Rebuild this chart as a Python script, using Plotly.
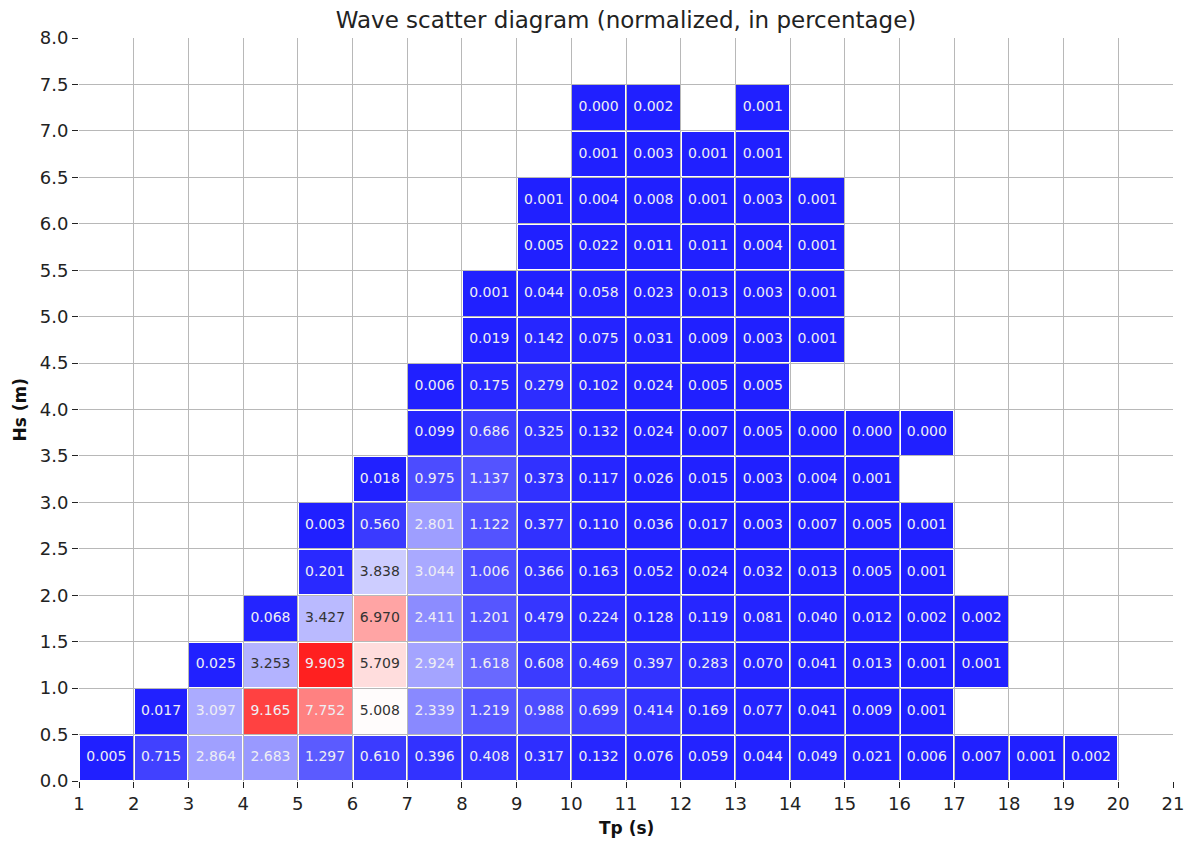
import plotly.graph_objects as go

# Bin edges
tp_edges = list(range(1, 22))                      # 1 .. 21 s
hs_edges = [i * 0.5 for i in range(17)]            # 0.0 .. 8.0 m

N = None
# Percentage of occurrence, one list per Hs bin (lower edge), indexed by Tp bin 1..20
hs_00 = [0.005, 0.715, 2.864, 2.683, 1.297, 0.610, 0.396, 0.408, 0.317, 0.132, 0.076, 0.059, 0.044, 0.049, 0.021, 0.006, 0.007, 0.001, 0.002, N]
hs_05 = [N, 0.017, 3.097, 9.165, 7.752, 5.008, 2.339, 1.219, 0.988, 0.699, 0.414, 0.169, 0.077, 0.041, 0.009, 0.001, N, N, N, N]
hs_10 = [N, N, 0.025, 3.253, 9.903, 5.709, 2.924, 1.618, 0.608, 0.469, 0.397, 0.283, 0.070, 0.041, 0.013, 0.001, 0.001, N, N, N]
hs_15 = [N, N, N, 0.068, 3.427, 6.970, 2.411, 1.201, 0.479, 0.224, 0.128, 0.119, 0.081, 0.040, 0.012, 0.002, 0.002, N, N, N]
hs_20 = [N, N, N, N, 0.201, 3.838, 3.044, 1.006, 0.366, 0.163, 0.052, 0.024, 0.032, 0.013, 0.005, 0.001, N, N, N, N]
hs_25 = [N, N, N, N, 0.003, 0.560, 2.801, 1.122, 0.377, 0.110, 0.036, 0.017, 0.003, 0.007, 0.005, 0.001, N, N, N, N]
hs_30 = [N, N, N, N, N, 0.018, 0.975, 1.137, 0.373, 0.117, 0.026, 0.015, 0.003, 0.004, 0.001, N, N, N, N, N]
hs_35 = [N, N, N, N, N, N, 0.099, 0.686, 0.325, 0.132, 0.024, 0.007, 0.005, 0.000, 0.000, 0.000, N, N, N, N]
hs_40 = [N, N, N, N, N, N, 0.006, 0.175, 0.279, 0.102, 0.024, 0.005, 0.005, N, N, N, N, N, N, N]
hs_45 = [N, N, N, N, N, N, N, 0.019, 0.142, 0.075, 0.031, 0.009, 0.003, 0.001, N, N, N, N, N, N]
hs_50 = [N, N, N, N, N, N, N, 0.001, 0.044, 0.058, 0.023, 0.013, 0.003, 0.001, N, N, N, N, N, N]
hs_55 = [N, N, N, N, N, N, N, N, 0.005, 0.022, 0.011, 0.011, 0.004, 0.001, N, N, N, N, N, N]
hs_60 = [N, N, N, N, N, N, N, N, 0.001, 0.004, 0.008, 0.001, 0.003, 0.001, N, N, N, N, N, N]
hs_65 = [N, N, N, N, N, N, N, N, N, 0.001, 0.003, 0.001, 0.001, N, N, N, N, N, N, N]
hs_70 = [N, N, N, N, N, N, N, N, N, 0.000, 0.002, N, 0.001, N, N, N, N, N, N, N]
hs_75 = [N] * 20

z = [hs_00, hs_05, hs_10, hs_15, hs_20, hs_25, hs_30, hs_35,
     hs_40, hs_45, hs_50, hs_55, hs_60, hs_65, hs_70, hs_75]

x_ticks = list(range(1, 22))
y_ticks = [i * 0.5 for i in range(17)]

FONT = "DejaVu Sans"
zmax = max(v for row in z for v in row if v is not None)

fig = go.Figure()
fig.add_trace(go.Heatmap(
    x=tp_edges, y=hs_edges, z=z,
    zmin=0, zmax=zmax,
    colorscale=[[0, "rgb(0,0,255)"], [0.5, "rgb(255,255,255)"], [1, "rgb(255,0,0)"]],
    showscale=False, xgap=2, ygap=2, opacity=0.87, hoverinfo="skip",
))

# cell labels
tx, ty, tt, tc = [], [], [], []
for i, row in enumerate(z):
    for j, v in enumerate(row):
        if v is None:
            continue
        tx.append((tp_edges[j] + tp_edges[j + 1]) / 2)
        ty.append((hs_edges[i] + hs_edges[i + 1]) / 2)
        tt.append(f"{v:.3f}")
        tc.append("#333333" if 3.2 < v < 7.5 else "#eeeef4")

fig.add_trace(go.Scatter(
    x=tx, y=ty, text=tt, mode="text",
    textfont=dict(family=FONT, size=14, color=tc),
    hoverinfo="skip", showlegend=False,
))

fig.update_layout(
    width=1193, height=841,
    margin=dict(l=79, r=20, t=38, b=60, autoexpand=False),
    paper_bgcolor="white", plot_bgcolor="white",
    font=dict(family=FONT, color="#222222"),
    title=dict(text="Wave scatter diagram (normalized, in percentage)",
               xref="paper", x=0.5, xanchor="center",
               yref="container", y=0.976, yanchor="middle",
               font=dict(family=FONT, size=23, color="#222222")),
    showlegend=False,
    annotations=[
        dict(text="<b>Tp (s)</b>", xref="paper", yref="paper", x=0.5, y=-0.0633,
             xanchor="center", yanchor="middle", showarrow=False,
             font=dict(family=FONT, size=17, color="#111111")),
        dict(text="<b>Hs (m)</b>", xref="paper", yref="paper", x=-0.054, y=0.5,
             xanchor="center", yanchor="middle", showarrow=False, textangle=-90,
             font=dict(family=FONT, size=17, color="#111111")),
    ],
)
fig.update_xaxes(
    range=[1, 21], tickvals=x_ticks, ticktext=[str(v) for v in x_ticks],
    showgrid=True, gridcolor="#b8b8b8", gridwidth=1, zeroline=False, showline=False,
    ticks="outside", ticklen=6, tickcolor="#222222", tickwidth=1, automargin=False,
    tickfont=dict(family=FONT, size=18, color="#222222"),
)
fig.update_yaxes(
    range=[0, 8], tickvals=y_ticks, ticktext=[f"{v:.1f}" for v in y_ticks],
    showgrid=True, gridcolor="#b8b8b8", gridwidth=1, zeroline=False, showline=False,
    ticks="outside", ticklen=6, tickcolor="#222222", tickwidth=1, automargin=False,
    tickfont=dict(family=FONT, size=18, color="#222222"),
)

fig.write_html("out.html")
